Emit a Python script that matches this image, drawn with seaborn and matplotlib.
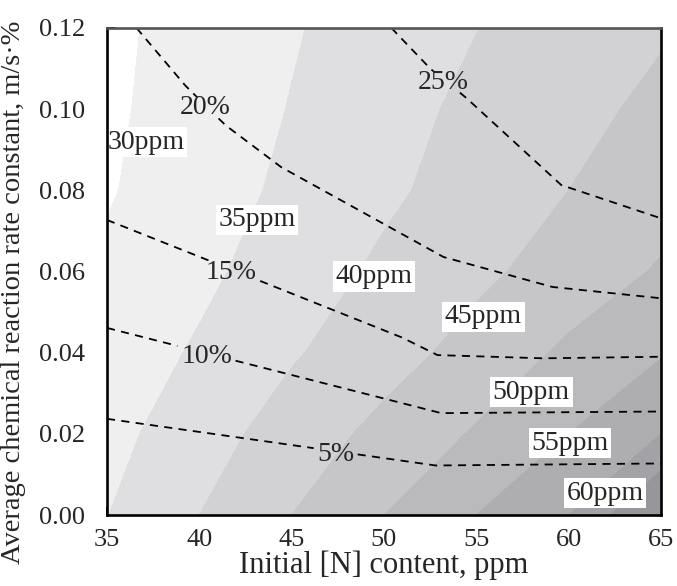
import numpy as np
import matplotlib
matplotlib.use("Agg")
import matplotlib.pyplot as plt
import seaborn as sns

# ---- data -------------------------------------------------------------
# grid of initial [N] content (ppm) and average rate constant (m/s·%)
initial_n = [35, 40, 45, 50, 55, 60, 65]
rate_k = [0.00, 0.02, 0.04, 0.06, 0.08, 0.10, 0.12]
# final [N] content (ppm); one row per rate constant, one column per initial [N]
final_n = [
    [34.9, 40.0, 45.0, 50.0, 55.0, 60.0, 65.5],
    [33.4, 37.9, 42.2, 46.4, 50.5, 55.0, 60.0],
    [32.2, 35.6, 39.5, 43.0, 46.8, 50.9, 54.6],
    [30.8, 33.9, 37.5, 40.9, 43.9, 47.2, 50.5],
    [29.6, 32.8, 36.0, 39.1, 42.1, 45.0, 47.9],
    [29.2, 32.2, 35.2, 38.3, 41.1, 43.6, 46.1],
    [29.0, 31.8, 34.6, 37.3, 39.9, 42.2, 44.5],
]
band_levels = [0, 30, 35, 40, 45, 50, 55, 60, 62.5, 100]
ppm_labels = [30, 35, 40, 45, 50, 55, 60]

# nitrogen removal ratio iso-lines (%)
removal_pct = [5, 10, 15, 20, 25]
removal_5_x = [35, 52.8, 65]
removal_5_y = [0.0237, 0.0122, 0.0127]
removal_10_x = [35, 53.1, 65]
removal_10_y = [0.0461, 0.0251, 0.0255]
removal_15_x = [35, 50.9, 52.9, 58.5, 65]
removal_15_y = [0.0727, 0.0439, 0.0394, 0.0386, 0.0390]
removal_20_x = [36.6, 39.2, 41.4, 44.4, 53.2, 59.1, 65]
removal_20_y = [0.120, 0.106, 0.0961, 0.0858, 0.0636, 0.0562, 0.0534]
removal_25_x = [50.4, 52.5, 54.4, 59.6, 65]
removal_25_y = [0.120, 0.110, 0.103, 0.0813, 0.0731]

# ---- style ------------------------------------------------------------
sns.set_style("ticks")
plt.rcParams["font.family"] = ["Liberation Serif", "DejaVu Serif"]
plt.rcParams["lines.dashed_pattern"] = [4.5, 3.5]

band_colors = ["#ffffff", "#efefef", "#dfdfe1", "#d2d2d4", "#c6c6c9",
               "#bababd", "#aeaeb1", "#a3a3a7", "#97979b"]
label_fs = 20

fig = plt.figure(figsize=(6.77, 5.86), dpi=100)
ax = fig.add_axes([107 / 677, 1 - 515 / 586, 554 / 677, 487 / 586])

X, Y = np.meshgrid(initial_n, rate_k)
ax.contourf(X, Y, np.array(final_n), levels=band_levels, colors=band_colors)

# level labels in white boxes
ppm_pos = [(37.12, 0.0919), (43.12, 0.0727), (49.46, 0.0587), (55.38, 0.0488),
           (57.98, 0.0303), (60.07, 0.0177), (61.96, 0.0054)]
for lvl, (px, py) in zip(ppm_labels, ppm_pos):
    ax.text(px, py, f"{lvl}ppm", fontsize=label_fs, ha="center", va="center",
            clip_on=True, zorder=5,
            bbox=dict(boxstyle="square,pad=0.1", fc="white", ec="none"))

curves = [(removal_5_x, removal_5_y), (removal_10_x, removal_10_y),
          (removal_15_x, removal_15_y), (removal_20_x, removal_20_y),
          (removal_25_x, removal_25_y)]
pct_label_x = [47.4, 40.4, 41.7, 40.3, 53.2]

pct_texts = []
for pct, (cx, cy), lx in zip(removal_pct, curves, pct_label_x):
    ly = float(np.interp(lx, cx, cy))
    t = ax.text(lx, ly, f"{pct}%", fontsize=label_fs, ha="center",
                va="center_baseline", zorder=5)
    pct_texts.append(t)

ax.set_xlim(35, 65)
ax.set_ylim(0, 0.12)
ax.set_xticks(np.arange(35, 66, 5))
ax.set_xticks(np.arange(37.5, 65, 5), minor=True)
ax.set_yticks(np.arange(0, 0.121, 0.02))
ax.set_yticks(np.arange(0.01, 0.12, 0.02), minor=True)
ax.set_yticklabels([f"{v:.2f}" for v in np.arange(0, 0.121, 0.02)])
ax.tick_params(which="both", direction="in", top=False, right=False,
               labelsize=19, width=1.4, color="black")
ax.tick_params(which="major", length=6)
ax.tick_params(which="minor", length=3)
ax.tick_params(axis="y", pad=16)
ax.tick_params(axis="x", pad=10)
for side, sp in ax.spines.items():
    sp.set_linewidth(1.9)
    sp.set_color("#555555" if side == "top" else "black")
    sp.set_zorder(6)

ax.set_xlabel("Initial [N] content, ppm", fontsize=22, labelpad=0)
ax.set_ylabel("Average chemical reaction rate constant, m/s\u00b7%",
              fontsize=20.5)
ax.yaxis.set_label_coords(-0.146, 0.458)

# draw the dashed iso-lines with a gap where each percentage label sits
fig.canvas.draw()
renderer = fig.canvas.get_renderer()
inv = ax.transData.inverted()
for (cx, cy), t in zip(curves, pct_texts):
    bb = t.get_window_extent(renderer)
    x0, x1 = bb.x0 - 3, bb.x1 + 3
    y0, y1 = bb.y0 + 2, bb.y1 - 2
    disp = ax.transData.transform(np.column_stack([cx, cy]))
    pts = []
    for a, b in zip(disp[:-1], disp[1:]):
        s = np.linspace(0, 1, 300)[:, None]
        pts.append(a + (b - a) * s)
    pts = np.vstack(pts)
    inside = (pts[:, 0] > x0) & (pts[:, 0] < x1) & (pts[:, 1] > y0) & (pts[:, 1] < y1)
    runs = []
    cur = []
    for p, m in zip(pts, inside):
        if m:
            if len(cur) > 1:
                runs.append(np.array(cur))
            cur = []
        else:
            cur.append(p)
    if len(cur) > 1:
        runs.append(np.array(cur))
    for r in runs:
        d = inv.transform(r)
        sns.lineplot(x=d[:, 0], y=d[:, 1], ax=ax, color="black", lw=1.3,
                     linestyle="--", sort=False, estimator=None, zorder=4)

fig.savefig("out.png", dpi=100)
